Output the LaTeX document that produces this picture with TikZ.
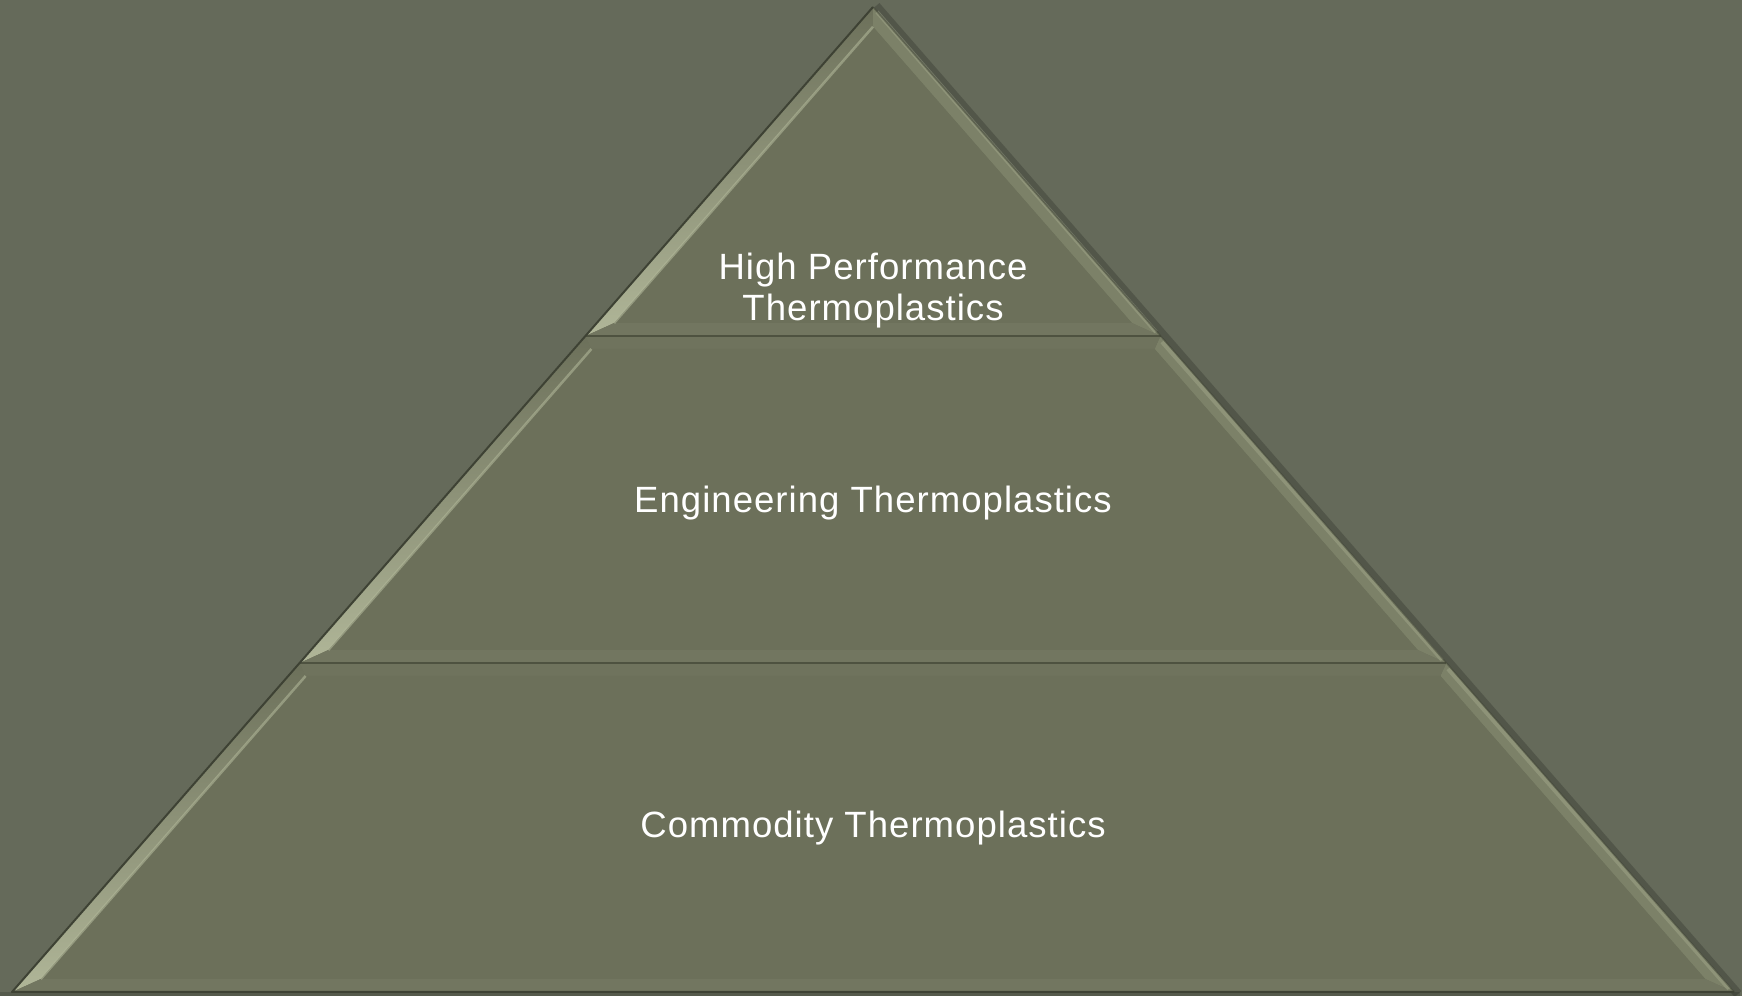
\documentclass[tikz,border=0pt]{standalone}
\usepackage{fontspec}
\setmainfont{Liberation Sans}[LetterSpace=2.8]
\definecolor{bg}{RGB}{101,106,90}
\definecolor{fillc}{RGB}{108,112,90}
\definecolor{hl}{RGB}{176,182,152}
\definecolor{lfac}{RGB}{128,133,108}
\definecolor{rfac}{RGB}{124,129,104}
\definecolor{tfac}{RGB}{111,115,93}
\definecolor{bfac}{RGB}{114,118,96}
\definecolor{edgec}{RGB}{62,66,52}
\definecolor{sepc}{RGB}{78,82,64}
\tikzset{
  lbevel/.style={top color=fillc, bottom color=hl, draw=none},
  rbevel/.style={fill=rfac, draw=none},
  tbevel/.style={fill=tfac, draw=none},
  bbevel/.style={fill=bfac, draw=none},
  face/.style={fill=fillc, draw=none},
  label/.style={text=white, font=\fontsize{10.4}{10.5}\selectfont, align=center, inner sep=0pt},
  sepline/.style={draw=sepc, line width=0.25mm},
}
\begin{document}
\begin{tikzpicture}[x=0.1mm,y=-0.1mm]
\fill[bg] (0,0) rectangle (1742,996);
\useasboundingbox (0,0) rectangle (1742,996);
% soft shadow on right outer edge
\draw[black, opacity=0.18, line width=0.9mm, line join=round] (876,6) -- (1738,994);
\draw[black, opacity=0.15, line width=0.4mm] (0,994) -- (1740,994);
% ---------- tier 1 ----------
\fill[face] (873,7) -- (585.5,336) -- (1160.5,336) -- cycle;
\shade[lbevel] (873,7) -- (585.5,336) -- (614.1,323) -- (873,26.8) -- cycle;
\fill[rbevel] (873,7) -- (873,26.8) -- (1131.9,323) -- (1160.5,336) -- cycle;
\fill[bbevel] (585.5,336) -- (1160.5,336) -- (1131.9,323) -- (614.1,323) -- cycle;
\fill[face] (873,26.8) -- (614.1,323) -- (1131.9,323) -- cycle;
% ---------- tier 2 ----------
\fill[face] (585.5,336) -- (1160.5,336) -- (1446.3,663) -- (299.7,663) -- cycle;
\shade[lbevel] (585.5,336) -- (591.4,349) -- (328.3,650) -- (299.7,663) -- cycle;
\fill[rbevel] (1160.5,336) -- (1446.3,663) -- (1417.7,650) -- (1154.6,349) -- cycle;
\fill[tbevel] (585.5,336) -- (1160.5,336) -- (1154.6,349) -- (591.4,349) -- cycle;
\fill[bbevel] (299.7,663) -- (1446.3,663) -- (1417.7,650) -- (328.3,650) -- cycle;
\fill[face] (591.4,349) -- (1154.6,349) -- (1417.7,650) -- (328.3,650) -- cycle;
% ---------- tier 3 ----------
\fill[face] (299.7,663) -- (1446.3,663) -- (1734,992) -- (12,992) -- cycle;
\shade[lbevel] (299.7,663) -- (305.6,676) -- (40.8,979) -- (12,992) -- cycle;
\fill[rbevel] (1446.3,663) -- (1734,992) -- (1705.2,979) -- (1440.4,676) -- cycle;
\fill[tbevel] (299.7,663) -- (1446.3,663) -- (1440.4,676) -- (305.6,676) -- cycle;
\fill[bbevel] (12,992) -- (1734,992) -- (1705.2,979) -- (40.8,979) -- cycle;
\fill[face] (305.6,676) -- (1440.4,676) -- (1705.2,979) -- (40.8,979) -- cycle;
% inner-edge highlights on left bevels
\draw[hl, opacity=0.6, line width=0.25mm] (873,26.8) -- (614.1,323);
\draw[hl, opacity=0.6, line width=0.25mm] (591.4,349) -- (328.3,650);
\draw[hl, opacity=0.6, line width=0.25mm] (305.6,676) -- (40.8,979);
% light strip near right outer edge
\draw[hl, opacity=0.35, line width=0.4mm] (877,12) -- (1156,332);
\draw[hl, opacity=0.35, line width=0.4mm] (1162,342) -- (1442,660);
\draw[hl, opacity=0.35, line width=0.4mm] (1448,669) -- (1729,989);
% separators and outer edge
\draw[sepline] (585.5,336) -- (1160.5,336);
\draw[sepline] (299.7,663) -- (1446.3,663);
\draw[sepline] (12,992) -- (1734,992);
\draw[edgec, line width=0.2mm, line join=round] (1734,992) -- (12,992) -- (873,7);
\draw[edgec, opacity=0.5, line width=0.15mm] (873,7) -- (1734,992);
% labels
\node[label, anchor=base] (high) at (873,280) {High Performance};
\node[label, anchor=base] (high2) at (873,321) {Thermoplastics};
\node[label, anchor=base] (eng) at (873,513) {Engineering Thermoplastics};
\node[label, anchor=base] (com) at (873,838) {Commodity Thermoplastics};
\end{tikzpicture}
\end{document}
